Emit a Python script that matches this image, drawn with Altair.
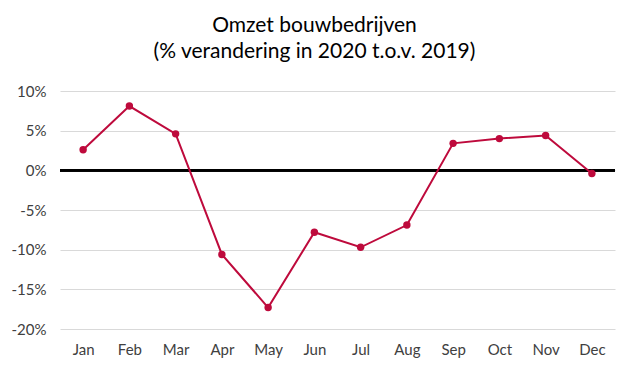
import altair as alt
import pandas as pd

months = ["Jan", "Feb", "Mar", "Apr", "May", "Jun", "Jul", "Aug", "Sep", "Oct", "Nov", "Dec"]
values = [2.6, 8.1, 4.6, -10.6, -17.3, -7.8, -9.7, -6.9, 3.4, 4.0, 4.4, -0.4]
y_ticks = [-20, -15, -10, -5, 0, 5, 10]
title_lines = ["Omzet bouwbedrijven", "(% verandering in 2020 t.o.v. 2019)"]

df = pd.DataFrame({"month": months, "value": values})

FONT = "Lato"
RED = "#BE0A3C"
LABEL = "#404040"

x_enc = alt.X("month:N", sort=months, title=None,
              scale=alt.Scale(type="point", padding=0.5),
              axis=alt.Axis(labelAngle=0, domain=False, ticks=False, grid=False,
                            labelFont=FONT, labelFontSize=15, labelColor=LABEL,
                            labelPadding=13))
y_scale = alt.Scale(domain=[-20, 10], nice=False, zero=False)
y_axis = alt.Axis(values=y_ticks, domain=False, ticks=False, grid=True,
                  gridColor="#D9D9D9", gridWidth=1, labelOverlap=False,
                  labelExpr="datum.value + '%'",
                  labelFont=FONT, labelFontSize=15, labelColor=LABEL,
                  labelPadding=14)
y_enc = alt.Y("value:Q", title=None, scale=y_scale, axis=y_axis)

base = alt.Chart(df)
zero = base.mark_rule(color="black", strokeWidth=2).encode(
    y=alt.Y(datum=0, type="quantitative", title=None, scale=y_scale, axis=y_axis))
line = base.mark_line(color=RED, strokeWidth=2).encode(x=x_enc, y=y_enc)
pts = base.mark_circle(color=RED, size=55, opacity=1).encode(x=x_enc, y=y_enc)

chart = alt.layer(zero, line, pts).properties(
    width=555, height=238,
    title=alt.TitleParams(text=title_lines, font=FONT, fontSize=21, fontWeight="normal",
                          color="#000000", anchor="middle", lineHeight=26,
                          dx=-23, offset=22),
    autosize=alt.AutoSizeParams(type="none"),
    padding={"left": 52, "top": 83, "right": 6, "bottom": 40},
).configure_view(stroke=None)

chart.save("out.html", embed_options={"renderer": "svg", "actions": False})
